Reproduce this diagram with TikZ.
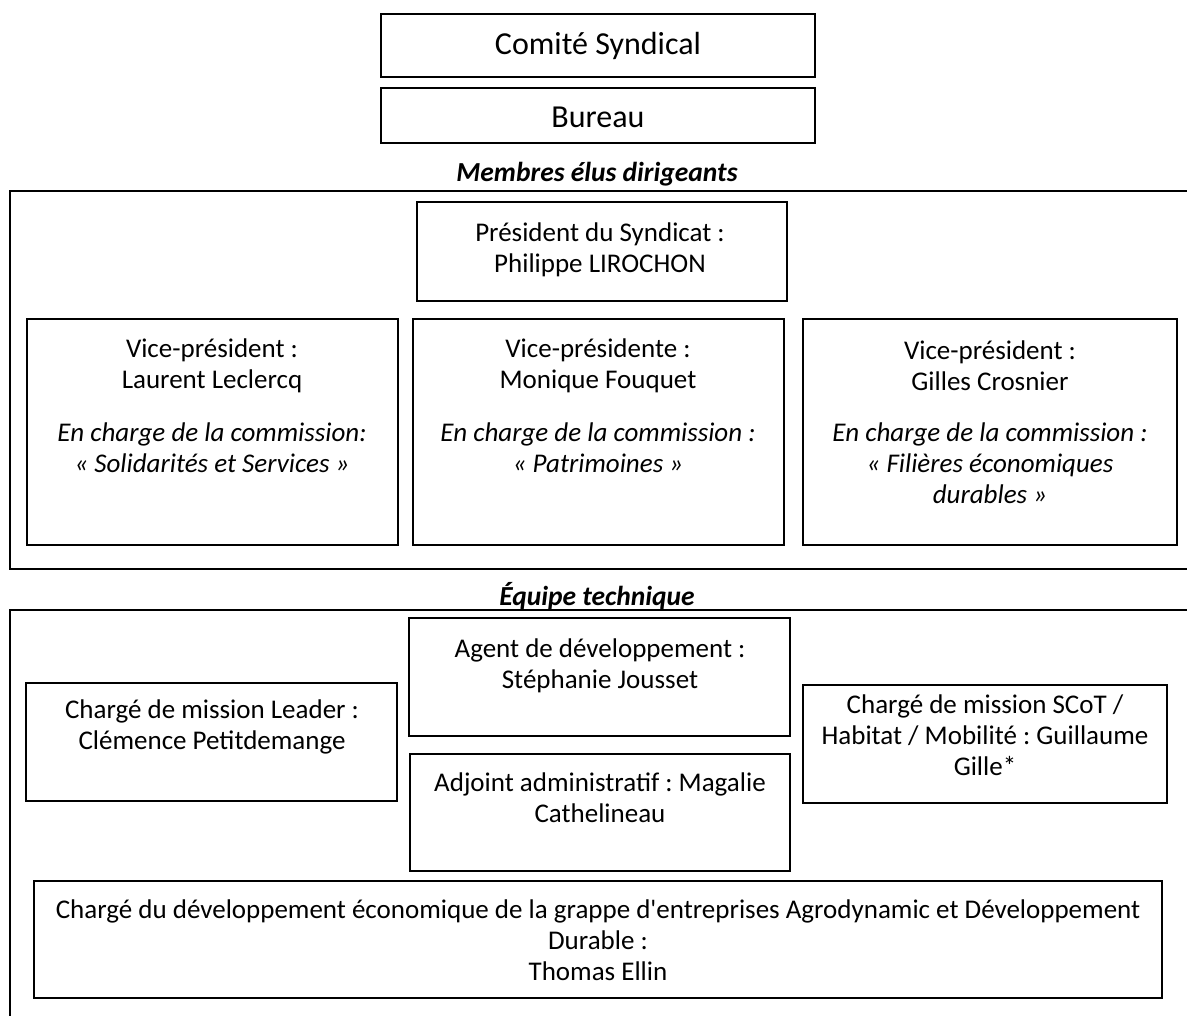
\documentclass[tikz,border=0pt]{standalone}
\usepackage{fontspec}
\setmainfont{Carlito}
\frenchspacing
\begin{document}
\begin{tikzpicture}[x=1pt,y=-1pt,
  box/.style={draw=black,line width=1.3pt,rectangle,inner sep=0pt},
  frame/.style={draw=black,line width=1.8pt},
  txt/.style={align=center,inner sep=0pt,font=\fontsize{27}{31}\selectfont},
  bigtxt/.style={align=center,inner sep=0pt,font=\fontsize{32}{36}\selectfont},
  head/.style={align=center,inner sep=0pt,font=\fontsize{27.5}{31}\selectfont\bfseries\itshape},
  ital/.style={align=center,inner sep=0pt,font=\fontsize{27}{31}\selectfont\itshape}]
\useasboundingbox (0,0) rectangle (1187,1016);
\clip (0,0) rectangle (1187,1016);
% top boxes
\node[box,minimum width=434pt,minimum height=63pt] (comite) at (598,45.5) {};
\node[bigtxt] (comiteT) at (598,46) {Comité Syndical};
\node[box,minimum width=434pt,minimum height=55pt] (bureau) at (598,115.5) {};
\node[bigtxt] (bureauT) at (598,117) {Bureau};
% section 1
\node[head] (membres) at (597,174) {Membres élus dirigeants};
\draw[frame] (1195,191) -- (10,191) -- (10,569) -- (1195,569);
\node[box,minimum width=370pt,minimum height=99pt] (pres) at (602,251.5) {};
\node[txt] (presT) at (600,250) {Président du Syndicat :\\Philippe LIROCHON};
\node[box,minimum width=371pt,minimum height=226pt] (vp1) at (212.5,432) {};
\node[box,minimum width=371pt,minimum height=226pt] (vp2) at (598.5,432) {};
\node[box,minimum width=374pt,minimum height=226pt] (vp3) at (990,432) {};
\node[txt] (vp1a) at (212,366) {Vice-président :\\Laurent Leclercq};
\node[ital] (vp1b) at (212,448) {En charge de la commission:\\« Solidarités et Services »};
\node[txt] (vp2a) at (598,366) {Vice-présidente :\\Monique Fouquet};
\node[ital] (vp2b) at (598,448) {En charge de la commission :\\« Patrimoines »};
\node[txt] (vp3a) at (990,366) {Vice-président :\\Gilles Crosnier};
\node[ital] (vp3b) at (990,463.5) {En charge de la commission :\\« Filières économiques\\durables »};
% section 2
\node[head] (equipe) at (597,596) {Équipe technique};
\draw[frame] (1195,610) -- (10,610) -- (10,1025);
\node[box,minimum width=381pt,minimum height=118pt] (agent) at (599.5,677) {};
\node[txt] (agentT) at (600,666) {Agent de développement :\\Stéphanie Jousset};
\node[box,minimum width=371pt,minimum height=118pt] (leader) at (211.5,742) {};
\node[txt] (leaderT) at (212,727) {Chargé de mission Leader :\\Clémence Petitdemange};
\node[box,minimum width=364pt,minimum height=118pt] (scot) at (985,744) {};
\node[txt] (scotT) at (985,735) {Chargé de mission SCoT /\\Habitat / Mobilité : Guillaume\\Gille*};
\node[box,minimum width=380pt,minimum height=117pt] (adjoint) at (600,812.5) {};
\node[txt] (adjointT) at (600,798) {Adjoint administratif : Magalie\\Cathelineau};
\node[box,minimum width=1128pt,minimum height=117pt] (dev) at (598,939.5) {};
\node[txt] (devT) at (598,940) {Chargé du développement économique de la grappe d\textquotesingle entreprises Agrodynamic et Développement\\Durable :\\Thomas Ellin};
\end{tikzpicture}
\end{document}
